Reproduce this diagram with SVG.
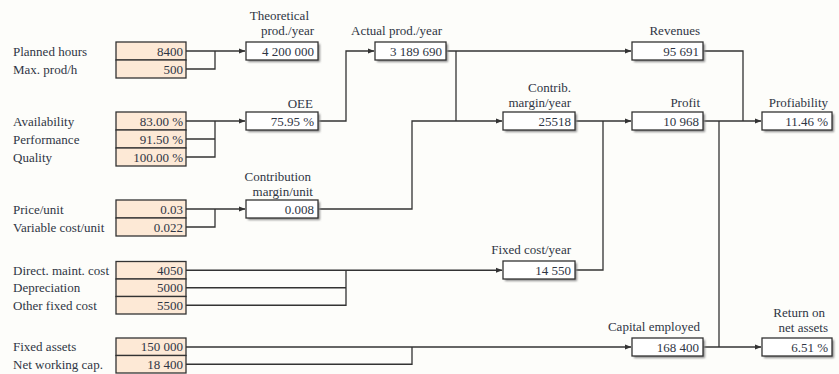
<svg xmlns="http://www.w3.org/2000/svg" width="839" height="374" viewBox="0 0 839 374">
<defs>
<marker id="arr" markerWidth="7" markerHeight="6" refX="6" refY="3" orient="auto" markerUnits="userSpaceOnUse">
<path d="M0,0.5 L6.5,3 L0,5.5 Z" fill="#333"/>
</marker>
<filter id="sh" x="-10%" y="-30%" width="130%" height="180%">
<feGaussianBlur stdDeviation="0.8"/>
</filter>
</defs>
<style>
text{font-family:"Liberation Serif","Times New Roman",serif;font-size:13px;fill:#2f3544}
.lab{text-anchor:start}
.r{text-anchor:end}
.in{fill:#fde9d6;stroke:#333;stroke-width:1.3}
.out{fill:#fff;stroke:#333;stroke-width:1.3}
.shadow{fill:#8a8a8a;filter:url(#sh)}
.c{fill:none;stroke:#333;stroke-width:1.3}
.a{marker-end:url(#arr)}
</style>
<rect x="0" y="0" width="839" height="374" fill="#fdfdfa"/>

<g id="connectors">
<path class="c a" d="M186 51 H245"/>
<path class="c" d="M186 69 H215 V51"/>
<path class="c a" d="M186 121 H245"/>
<path class="c" d="M186 139 H215 V121 M186 157 H215 V139"/>
<path class="c a" d="M186 209 H245"/>
<path class="c" d="M186 227 H215 V209"/>
<path class="c a" d="M318 121 H346 V51 H374"/>
<path class="c a" d="M446 51 H631"/>
<path class="c" d="M456 51 V121"/>
<path class="c a" d="M318 209 H412 V121 H502"/>
<path class="c a" d="M575 121 H631"/>
<path class="c a" d="M186 270.25 H502"/>
<path class="c" d="M186 287.75 H346 V270.25 M186 305.25 H346 V287.75"/>
<path class="c" d="M575 270 H603 V121"/>
<path class="c a" d="M186 347 H631"/>
<path class="c" d="M186 364.25 H412 V347"/>
<path class="c" d="M703 51 H743 V121"/>
<path class="c a" d="M703 121 H761"/>
<path class="c" d="M719 121 V347"/>
<path class="c a" d="M703 347 H761"/>
</g>

<g id="in-hours">
<rect class="in" x="116" y="42" width="70" height="18"/>
<text class="lab" x="13" y="55.5">Planned hours</text>
<text class="r" x="183" y="55.5">8400</text>
</g>
<g id="in-maxprod">
<rect class="in" x="116" y="60" width="70" height="18"/>
<text class="lab" x="13" y="73.5">Max. prod/h</text>
<text class="r" x="183" y="73.5">500</text>
</g>
<g id="in-availability">
<rect class="in" x="116" y="112" width="70" height="18"/>
<text class="lab" x="13" y="125.5">Availability</text>
<text class="r" x="183" y="125.5">83.00 %</text>
</g>
<g id="in-performance">
<rect class="in" x="116" y="130" width="70" height="18"/>
<text class="lab" x="13" y="143.5">Performance</text>
<text class="r" x="183" y="143.5">91.50 %</text>
</g>
<g id="in-quality">
<rect class="in" x="116" y="148" width="70" height="18"/>
<text class="lab" x="13" y="161.5">Quality</text>
<text class="r" x="183" y="161.5">100.00 %</text>
</g>
<g id="in-price">
<rect class="in" x="116" y="200" width="70" height="18"/>
<text class="lab" x="13" y="213.5">Price/unit</text>
<text class="r" x="183" y="213.5">0.03</text>
</g>
<g id="in-varcost">
<rect class="in" x="116" y="218" width="70" height="18"/>
<text class="lab" x="13" y="231.5">Variable cost/unit</text>
<text class="r" x="183" y="231.5">0.022</text>
</g>
<g id="in-maint">
<rect class="in" x="116" y="261.5" width="70" height="17.5"/>
<text class="lab" x="13" y="274.75">Direct. maint. cost</text>
<text class="r" x="183" y="274.75">4050</text>
</g>
<g id="in-depreciation">
<rect class="in" x="116" y="279" width="70" height="17.5"/>
<text class="lab" x="13" y="292.25">Depreciation</text>
<text class="r" x="183" y="292.25">5000</text>
</g>
<g id="in-otherfixed">
<rect class="in" x="116" y="296.5" width="70" height="17.5"/>
<text class="lab" x="13" y="309.75">Other fixed cost</text>
<text class="r" x="183" y="309.75">5500</text>
</g>
<g id="in-fixedassets">
<rect class="in" x="116" y="338" width="70" height="17.5"/>
<text class="lab" x="13" y="351.25">Fixed assets</text>
<text class="r" x="183" y="351.25">150 000</text>
</g>
<g id="in-nwc">
<rect class="in" x="116" y="355.5" width="70" height="17.5"/>
<text class="lab" x="13" y="368.75">Net working cap.</text>
<text class="r" x="183" y="368.75">18 400</text>
</g>

<g id="theoretical">
<rect class="shadow" x="248" y="44" width="72" height="18"/>
<rect class="out" x="246" y="42" width="72" height="18"/>
<text class="r" x="309" y="20">Theoretical</text>
<text class="r" x="314" y="35">prod./year</text>
<text class="r" x="314" y="55.5">4 200 000</text>
</g>
<g id="oee">
<rect class="shadow" x="248" y="114" width="72" height="18"/>
<rect class="out" x="246" y="112" width="72" height="18"/>
<text class="r" x="313" y="108">OEE</text>
<text class="r" x="314" y="125.5">75.95 %</text>
</g>
<g id="contrib-unit">
<rect class="shadow" x="248" y="202" width="72" height="18"/>
<rect class="out" x="246" y="200" width="72" height="18"/>
<text class="r" x="311" y="181">Contribution</text>
<text class="r" x="313" y="196">margin/unit</text>
<text class="r" x="314" y="213.5">0.008</text>
</g>
<g id="actual">
<rect class="shadow" x="377" y="44" width="71" height="18"/>
<rect class="out" x="375" y="42" width="71" height="18"/>
<text class="r" x="442" y="35">Actual prod./year</text>
<text class="r" x="442" y="55.5">3 189 690</text>
</g>
<g id="contrib-year">
<rect class="shadow" x="505" y="114" width="72" height="18"/>
<rect class="out" x="503" y="112" width="72" height="18"/>
<text class="r" x="571" y="92">Contrib.</text>
<text class="r" x="571" y="107">margin/year</text>
<text class="r" x="571" y="125.5">25518</text>
</g>
<g id="fixed-cost">
<rect class="shadow" x="505" y="263" width="72" height="18"/>
<rect class="out" x="503" y="261" width="72" height="18"/>
<text class="r" x="571" y="254">Fixed cost/year</text>
<text class="r" x="571" y="274.5">14 550</text>
</g>
<g id="revenues">
<rect class="shadow" x="634" y="44" width="71" height="18"/>
<rect class="out" x="632" y="42" width="71" height="18"/>
<text class="r" x="700" y="35">Revenues</text>
<text class="r" x="699" y="55.5">95 691</text>
</g>
<g id="profit">
<rect class="shadow" x="634" y="114" width="71" height="18"/>
<rect class="out" x="632" y="112" width="71" height="18"/>
<text class="r" x="700" y="107">Profit</text>
<text class="r" x="699" y="125.5">10 968</text>
</g>
<g id="capital">
<rect class="shadow" x="634" y="340" width="71" height="18"/>
<rect class="out" x="632" y="338" width="71" height="18"/>
<text class="r" x="700" y="331">Capital employed</text>
<text class="r" x="699" y="351.5">168 400</text>
</g>
<g id="profitability">
<rect class="shadow" x="764" y="114" width="70" height="18"/>
<rect class="out" x="762" y="112" width="70" height="18"/>
<text class="r" x="828" y="107">Profiability</text>
<text class="r" x="828" y="125.5">11.46 %</text>
</g>
<g id="return">
<rect class="shadow" x="764" y="340" width="70" height="18"/>
<rect class="out" x="762" y="338" width="70" height="18"/>
<text class="r" x="825" y="317">Return on</text>
<text class="r" x="828" y="332">net assets</text>
<text class="r" x="828" y="351.5">6.51 %</text>
</g>
</svg>
